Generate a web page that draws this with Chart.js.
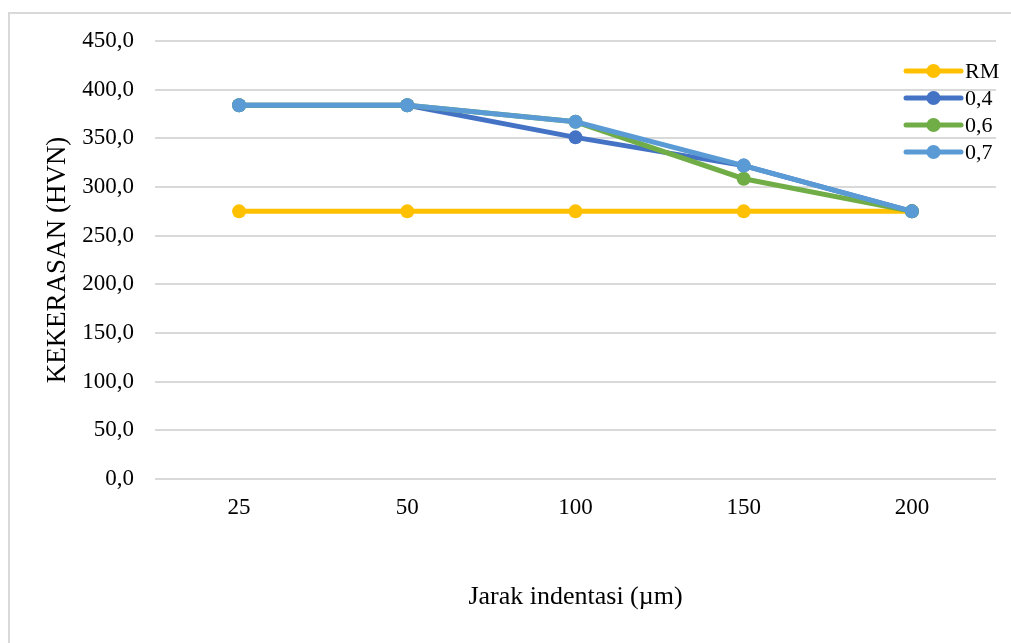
<!DOCTYPE html>
<html>
<head>
<meta charset="utf-8">
<title>Kekerasan vs jarak indentasi</title>
<script src="https://cdn.jsdelivr.net/npm/chart.js@4/dist/chart.umd.min.js"></script>
<style>
  html, body { margin: 0; padding: 0; background: #ffffff; }
  #wrap { width: 1011px; height: 643px; }
</style>
</head>
<body>
<div id="wrap"><canvas id="chart" width="1011" height="643"></canvas></div>
<script>
// Indentation distance (µm) along the x axis
const distances = ['25', '50', '100', '150', '200'];

// Hardness values (HVN) for each series
const seriesNames = ['RM', '0,4', '0,6', '0,7'];
const hardnessRM  = [275, 275, 275, 275, 275];
const hardness04  = [384, 384, 351, 322, 275];
const hardness06  = [384, 384, 367, 308.5, 275];
const hardness07  = [384, 384, 367, 322, 275];

const seriesColors = ['#FFC000', '#4472C4', '#70AD47', '#5B9BD5'];

// y axis range and step
const yMin = 0, yMax = 450, yStep = 50;

const serif = '"Liberation Serif", "Times New Roman", serif';

const seriesValues = [hardnessRM, hardness04, hardness06, hardness07];
const datasets = seriesNames.map((name, i) => ({
  label: name,
  data: seriesValues[i],
  borderColor: seriesColors[i],
  backgroundColor: seriesColors[i],
  pointBackgroundColor: seriesColors[i],
  pointBorderColor: seriesColors[i],
  borderWidth: 5,
  pointRadius: 7,
  pointHoverRadius: 7,
  pointBorderWidth: 0,
  tension: 0,
  fill: false,
  // later series are painted on top
  order: seriesNames.length - i
}));

// light frame around the figure
const framePlugin = {
  id: 'frame',
  beforeDraw(chart) {
    const ctx = chart.ctx;
    ctx.save();
    ctx.fillStyle = '#ffffff';
    ctx.fillRect(0, 0, chart.width, chart.height);
    ctx.strokeStyle = '#d9d9d9';
    ctx.lineWidth = 2;
    ctx.strokeRect(9, 13, chart.width + 50, chart.height + 50);
    ctx.restore();
  }
};

// legend drawn over the upper right of the plot
const legendPlugin = {
  id: 'sideLegend',
  afterDraw(chart) {
    const ctx = chart.ctx;
    const area = chart.chartArea;
    const x0 = area.right - 90;
    const lineLen = 55;
    const y0 = area.top + 30;
    const rowH = 27;
    ctx.save();
    ctx.font = '22px ' + serif;
    ctx.textAlign = 'left';
    ctx.textBaseline = 'middle';
    chart.data.datasets.forEach((ds, i) => {
      const y = y0 + i * rowH;
      ctx.strokeStyle = ds.borderColor;
      ctx.lineWidth = 5;
      ctx.lineCap = 'round';
      ctx.beginPath();
      ctx.moveTo(x0, y);
      ctx.lineTo(x0 + lineLen, y);
      ctx.stroke();
      ctx.fillStyle = ds.borderColor;
      ctx.beginPath();
      ctx.arc(x0 + lineLen / 2, y, 7, 0, Math.PI * 2);
      ctx.fill();
      ctx.fillStyle = '#000000';
      ctx.fillText(ds.label, x0 + lineLen + 4, y + 1);
    });
    ctx.restore();
  }
};

new Chart(document.getElementById('chart'), {
  type: 'line',
  data: { labels: distances, datasets },
  plugins: [framePlugin, legendPlugin],
  options: {
    responsive: false,
    devicePixelRatio: 1,
    animation: false,
    layout: { padding: { left: 0, top: 41, right: 15, bottom: 0 } },
    plugins: {
      legend: { display: false },
      tooltip: { enabled: false },
      title: { display: false }
    },
    scales: {
      x: {
        type: 'category',
        offset: true,
        grid: { display: false, drawTicks: false },
        border: { display: false },
        ticks: {
          color: '#000000',
          font: { family: serif, size: 23 },
          padding: 15,
          maxRotation: 0
        },
        title: {
          display: true,
          text: 'Jarak indentasi (µm)',
          color: '#000000',
          font: { family: serif, size: 26 },
          padding: { top: 0, bottom: 30 }
        },
        afterFit(scale) { scale.height = 164; }
      },
      y: {
        min: yMin,
        max: yMax,
        grid: { color: '#d9d9d9', lineWidth: 2, drawTicks: false },
        border: { display: false },
        ticks: {
          stepSize: yStep,
          color: '#000000',
          font: { family: serif, size: 23 },
          padding: 21,
          callback: v => v.toFixed(1).replace('.', ',')
        },
        title: {
          display: true,
          text: 'KEKERASAN (HVN)',
          color: '#000000',
          font: { family: serif, size: 27 },
          padding: { top: 42, bottom: 0 }
        },
        afterFit(scale) { scale.width = 155; }
      }
    }
  }
});
</script>
</body>
</html>
